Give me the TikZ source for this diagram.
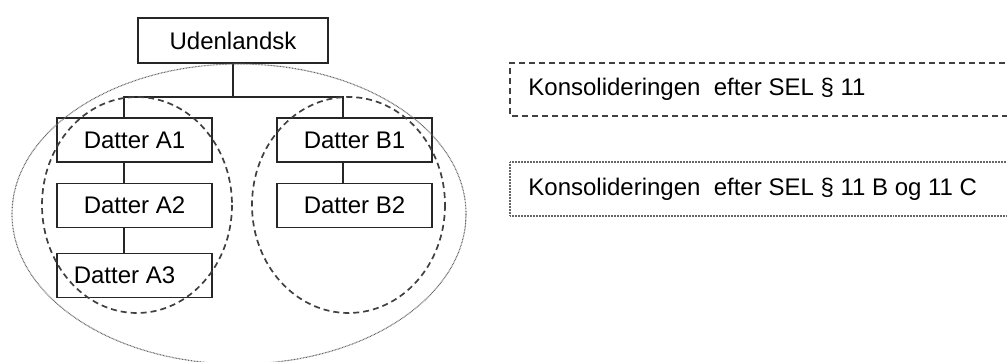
\documentclass[tikz,border=0pt]{standalone}
\usepackage{fontspec}
\setmainfont{Liberation Sans}
\begin{document}
\begin{tikzpicture}[x=0.5pt,y=-0.5pt,
  orgbox/.style={draw=black!85, line width=0.8pt, minimum width=77.5pt, minimum height=22pt, inner sep=0pt, font=\fontsize{12}{14}\selectfont},
  conn/.style={draw=black!85, line width=0.7pt},
  grpA/.style={draw=black!75, line width=0.85pt, dash pattern=on 3pt off 2pt},
  grpB/.style={draw=black!60, line width=0.55pt, dash pattern=on 0.4pt off 0.35pt},
  legtext/.style={anchor=west, inner sep=0pt, font=\fontsize{12}{14}\selectfont}]
\useasboundingbox (0,0) rectangle (1007,362);
% nodes
\node[orgbox, minimum width=95pt, minimum height=22.5pt] (U) at (233,40.5) {Udenlandsk};
\node[orgbox] (A1) at (134.5,140) {Datter A1};
\node[orgbox] (A2) at (134.5,205.5) {Datter A2};
\node[orgbox] (A3) at (134.5,275.5) {\hspace*{-10pt}Datter A3};
\node[orgbox] (B1) at (354.5,140) {Datter B1};
\node[orgbox] (B2) at (354.5,205.5) {Datter B2};
\coordinate (ax) at (124,0);
\coordinate (bx) at (343,0);
\coordinate (bar) at (233,97);
% connectors
\draw[conn] (U.south) -- (bar);
\draw[conn] (A1.north -| ax) |- (bar) -| (B1.north -| bx);
\draw[conn] (A1.south -| ax) -- (A2.north -| ax);
\draw[conn] (A2.south -| ax) -- (A3.north -| ax);
\draw[conn] (B1.south -| bx) -- (B2.north -| bx);
% groups
\draw[grpA] (137,205) ellipse [x radius=95, y radius=108];
\draw[grpA] (348.5,205) ellipse [x radius=96.5, y radius=108];
\draw[grpB] (239,214) ellipse [x radius=227, y radius=150];
% legend
\draw[grpA] (1015,63) -- (510,63) -- (510,116) -- (1015,116);
\node[legtext] (L1) at (528,89.5) {Konsolideringen\ \ efter SEL § 11};
\draw[grpB] (1015,162) -- (510,162) -- (510,216) -- (1015,216);
\node[legtext] (L2) at (528,189) {Konsolideringen\ \ efter SEL § 11 B og 11 C};
\end{tikzpicture}
\end{document}
